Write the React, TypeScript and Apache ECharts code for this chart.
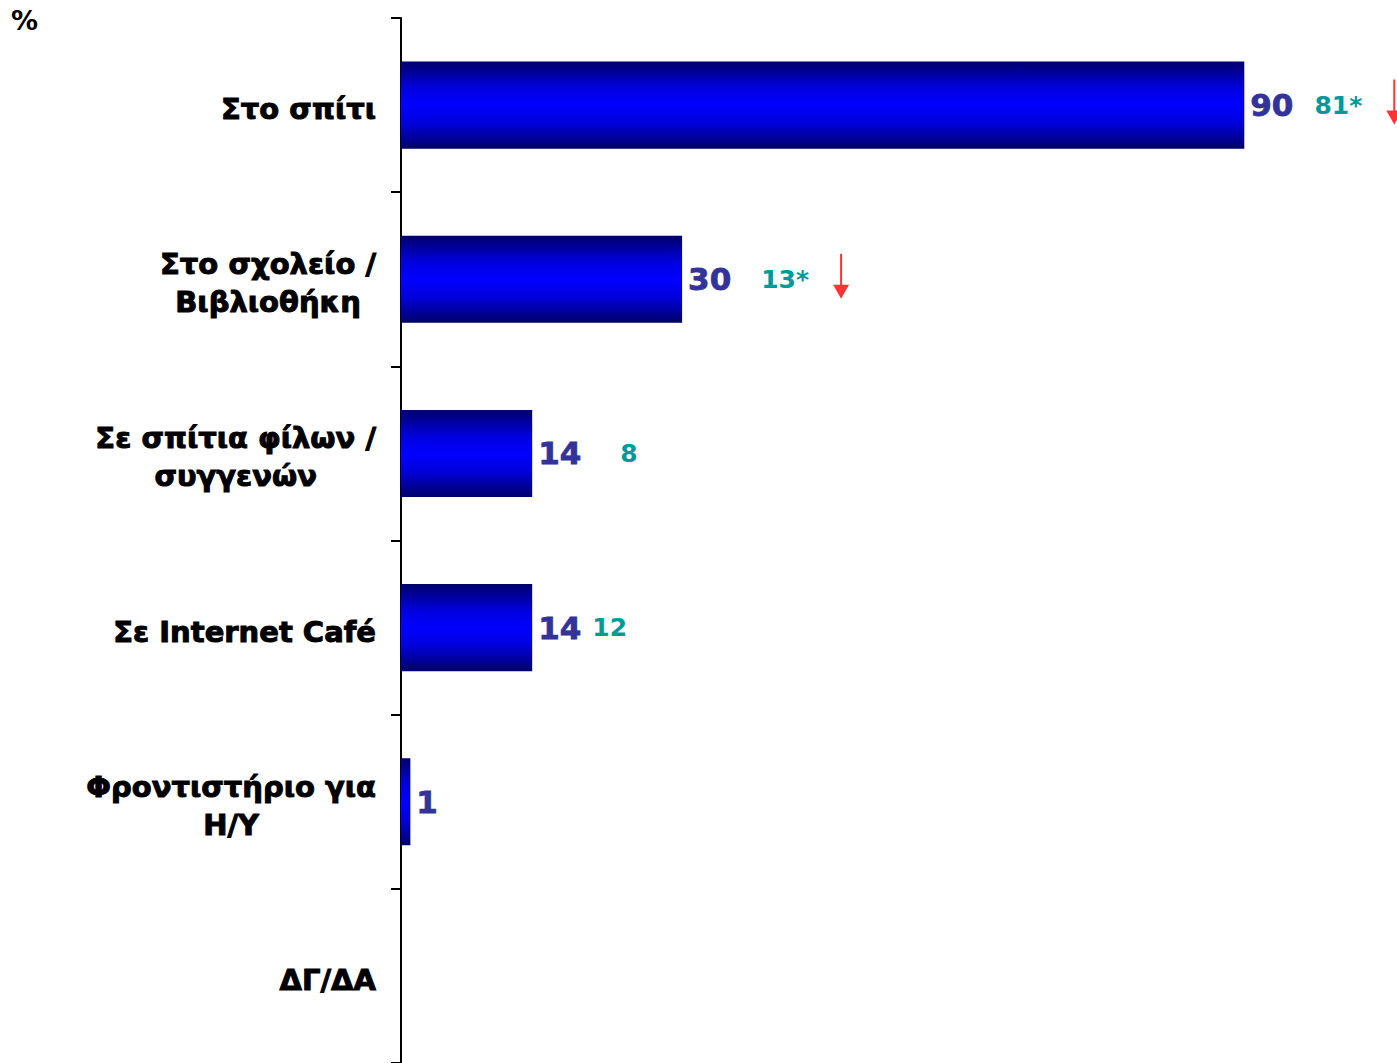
import React, { useEffect, useRef } from "react";
import * as echarts from "echarts";

const categories = [
  "Στο σπίτι",
  "Στο σχολείο /\nΒιβλιοθήκη",
  "Σε σπίτια φίλων /\nσυγγενών",
  "Σε Internet Café",
  "Φροντιστήριο για\nΗ/Υ",
  "ΔΓ/ΔΑ",
];
const values: (number | null)[] = [90, 30, 14, 14, 1, null];
const previousValues: (number | null)[] = [81, 13, 8, 12, null, null];
const previousSignificant = [true, true, false, false, false, false];
const decreaseArrow = [true, true, false, false, false, false];

// styling (pixel gaps / offsets), not data
const labelGaps = [21, 30, 39, 11, 0, 0];
const arrowOffsets = [150, 159, 0, 0, 0, 0];

const LABEL_FONT = '"DejaVu Sans", sans-serif';
const VALUE_FONT = '"DejaVu Sans", sans-serif';

export default function App() {
  const ref = useRef<HTMLDivElement>(null);
  useEffect(() => {
    if (!ref.current) return;
    const chart = echarts.init(ref.current, undefined, { renderer: "svg" });

    const gapRich: Record<string, any> = {};
    labelGaps.forEach((g, i) => {
      gapRich["g" + i] = { width: g, fontSize: 10 };
    });

    const arrowData = values
      .map((v, i) =>
        decreaseArrow[i] && v != null
          ? { value: [v, categories[i]], symbolOffset: [arrowOffsets[i], -3] }
          : null
      )
      .filter((d) => d != null);

    const catStyle = {
      align: "center",
      fontSize: 29,
      fontWeight: "bold",
      fontFamily: LABEL_FONT,
      lineHeight: 38,
      color: "#000",
      textBorderColor: "#000",
      textBorderWidth: 1,
    };

    chart.setOption({
      animation: false,
      backgroundColor: "#ffffff",
      grid: { left: 401, right: 59, top: 18, bottom: -2, containLabel: false },
      xAxis: {
        type: "value",
        min: 0,
        max: 100,
        show: false,
      },
      yAxis: {
        type: "category",
        inverse: true,
        data: categories,
        axisLine: { show: true, lineStyle: { color: "#000", width: 2 } },
        axisTick: { show: true, length: 10, lineStyle: { color: "#000", width: 2 } },
        splitLine: { show: false },
        axisLabel: {
          margin: 25,
          padding: [8, 0, 0, 0],
          formatter: (val: string) =>
            val
              .split("\n")
              .map((l) => `{c|${l}}`)
              .join("\n"),
          rich: {
            c: catStyle,
          },
        },
      },
      graphic: [
        {
          type: "text",
          left: 11,
          top: 7,
          style: { text: "%", font: 'bold 27px "DejaVu Sans"', fill: "#000" },
        },
      ],
      series: [
        {
          type: "bar",
          data: values,
          barWidth: "50%",
          itemStyle: {
            color: new echarts.graphic.LinearGradient(0, 0, 0, 1, [
              { offset: 0, color: "#00006a" },
              { offset: 0.3, color: "#0000dd" },
              { offset: 0.5, color: "#0000ff" },
              { offset: 0.7, color: "#0000dd" },
              { offset: 1, color: "#00006a" },
            ]),
          },
          label: {
            show: true,
            position: "right",
            distance: 6,
            formatter: (p: any) => {
              const i = p.dataIndex;
              if (p.value == null) return "";
              let s = `{v|${p.value}}`;
              if (previousValues[i] != null) {
                s += `{g${i}| }{p|${previousValues[i]}${previousSignificant[i] ? "*" : ""}}`;
              }
              return s;
            },
            rich: {
              v: {
                color: "#333399",
                fontSize: 31,
                fontWeight: "bold",
                fontFamily: VALUE_FONT,
                textBorderColor: "#333399",
                textBorderWidth: 0.8,
              },
              p: {
                color: "#009999",
                fontSize: 25,
                fontWeight: "bold",
                fontFamily: VALUE_FONT,
              },
              ...gapRich,
            },
          },
        },
        {
          type: "scatter",
          data: arrowData,
          clip: false,
          symbol: "path://M7,0 H9 V31 H16 L8,45 L0,31 H7 Z",
          symbolSize: [16, 45],
          itemStyle: { color: "#ff0000" },
          silent: true,
        },
      ],
    });
    return () => chart.dispose();
  }, []);
  return (
    <div
      ref={ref}
      style={{ position: "absolute", left: 0, top: 0, width: 1397, height: 1063 }}
    />
  );
}
